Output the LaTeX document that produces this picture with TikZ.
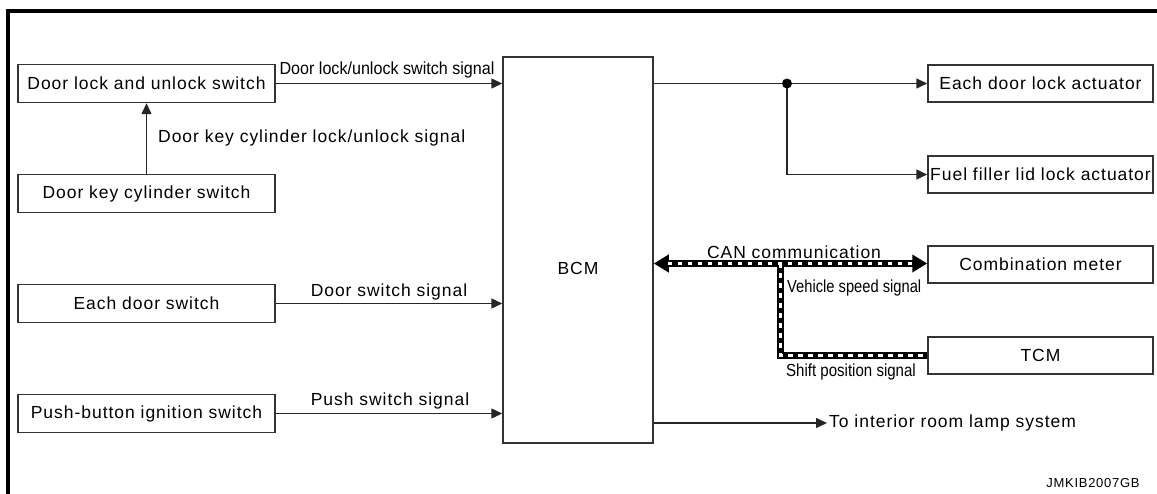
\documentclass[tikz,border=0pt]{standalone}
\usepackage{fontspec}
\usepackage{graphicx}
\setmainfont{Liberation Sans}[LetterSpace=5.5]
\newfontfamily\plainfont{Liberation Sans}
\usetikzlibrary{arrows.meta,calc}
\tikzset{
  blk/.style={draw=black!80, line width=1.5pt, fill=white, inner sep=0pt, font=\fontsize{17.5}{20}\selectfont},
  lbl/.style={inner sep=0pt, font=\fontsize{17.5}{20}\selectfont},
  nlbl/.style={inner sep=0pt, font=\fontsize{17.5}{20}\plainfont},
  conn/.style={draw=black!85, line width=1.5pt},
  arr/.style={conn, -{Triangle[length=11pt,width=10pt]}},
  canblack/.style={draw=black, line width=7pt},
  canwhite/.style={draw=white, line width=3pt, dash pattern=on 4.5pt off 5.5pt},
  bigtip/.tip={Triangle[length=15pt,width=17pt]}
}
\begin{document}
\begin{tikzpicture}[x=1pt,y=-1pt]
\useasboundingbox (0,0) rectangle (1157,494);
% frame
\draw[line width=4pt] (8,494) -- (8,11.5) -- (1157,11.5);

% left boxes
\node[blk, minimum width=257pt, minimum height=38pt] (dlu) at (146.5,83.5) {Door lock and unlock switch};
\node[blk, minimum width=257pt, minimum height=38pt] (dkc) at (146.5,193.5) {Door key cylinder switch};
\node[blk, minimum width=257pt, minimum height=38pt] (eds) at (146.5,303.5) {Each door switch};
\node[blk, minimum width=257pt, minimum height=38pt] (pbi) at (146.5,413.5) {Push-button ignition switch};

% BCM
\node[blk, minimum width=150pt, minimum height=386pt] (bcm) at (578,250) {};
\node[lbl] (bcmtxt) at (578,268) {BCM};

% right boxes
\node[blk, minimum width=225pt, minimum height=37pt] (edla) at (1040.5,83.5) {Each door lock actuator};
\node[blk, minimum width=225pt, minimum height=37pt] (ffla) at (1040.5,174.5) {Fuel filler lid lock actuator};
\node[blk, minimum width=225pt, minimum height=37pt] (cm) at (1040.5,264.5) {Combination meter};
\node[blk, minimum width=225pt, minimum height=37pt] (tcm) at (1040.5,355.5) {TCM};

% left connectors
\draw[arr] (dkc.north) -- (dlu.south);
\draw[arr] (dlu.east) -- (dlu.east -| bcm.west);
\draw[arr] (eds.east) -- (eds.east -| bcm.west);
\draw[arr] (pbi.east) -- (pbi.east -| bcm.west);

\node[nlbl, anchor=south] (l1) at (387,78) {\scalebox{0.92}[1]{Door lock/unlock switch signal}};
\node[lbl, anchor=west] (l2) at (158,138) {Door key cylinder lock/unlock signal};
\node[lbl] (l3) at (389,292) {Door switch signal};
\node[lbl] (l4) at (390,401) {Push switch signal};

% outputs
\coordinate (j) at (787,83.5);
\draw[conn] (bcm.east |- j) -- (j);
\draw[arr] (j) -- (edla.west);
\draw[arr] (j) |- (ffla.west);
\fill (j) circle (5pt);

% CAN
\coordinate (canl) at (bcm.east |- 0,263.5);
\coordinate (canr) at (cm.west |- 0,263.5);
\coordinate (canj) at (780,263.5);
\draw[canblack, bigtip-bigtip] (canl) -- (canr);
\draw[canblack] (canj) |- (tcm.west);
\draw[canwhite] ($(canl)+(14,0)$) -- ($(canr)+(-14,0)$);
\draw[canwhite] (canj) |- (tcm.west);
\node[lbl] (can) at (794,252) {CAN communication};
\node[nlbl, anchor=west] (vss) at (787,288) {\scalebox{0.84}[1]{Vehicle speed signal}};
\node[nlbl] (sps) at (851,372) {\scalebox{0.86}[1]{Shift position signal}};

% lamp
\coordinate (lamp) at (827,423);
\draw[arr] (bcm.east |- lamp) -- (lamp);
\node[lbl, anchor=west] (lamptxt) at (829,423) {To interior room lamp system};

\node[inner sep=0pt, font=\fontsize{13}{14}\selectfont] (code) at (1093,483) {JMKIB2007GB};
\end{tikzpicture}
\end{document}
